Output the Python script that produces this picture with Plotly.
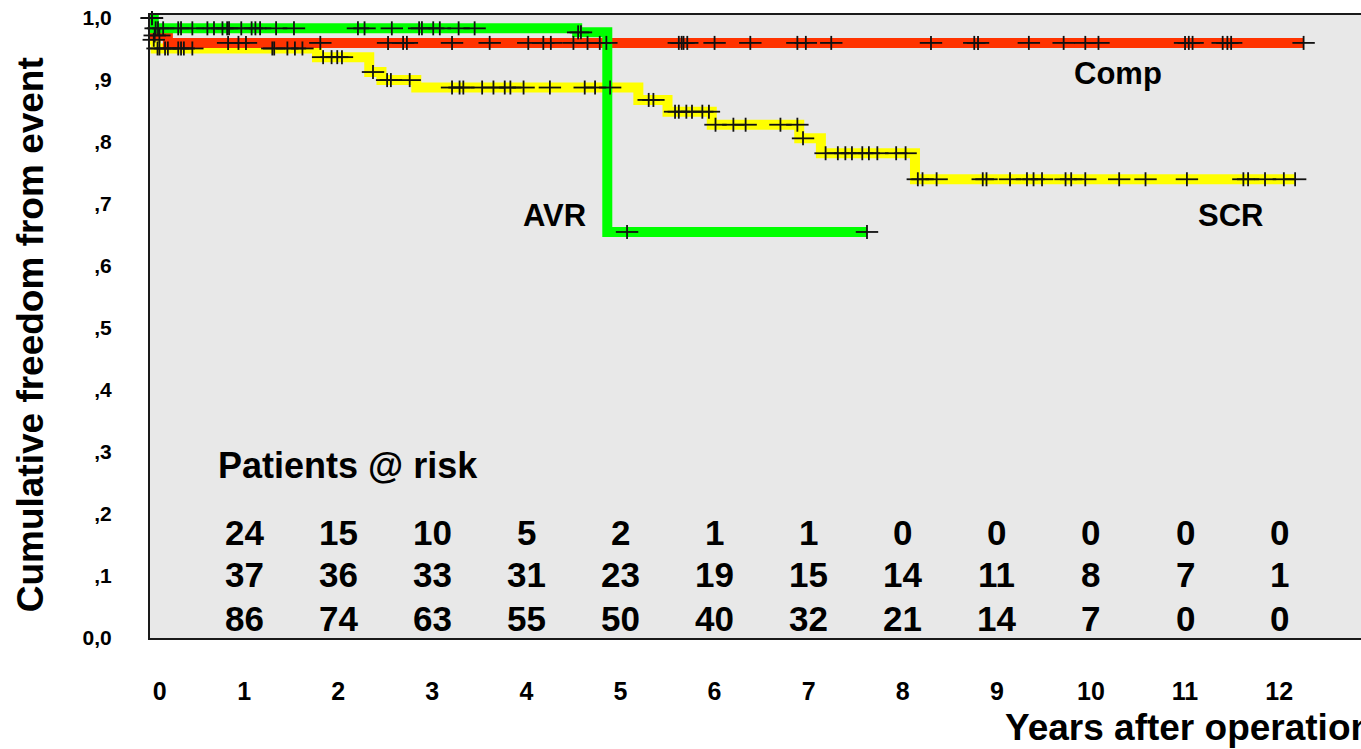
import plotly.graph_objects as go

# ---- Kaplan-Meier step points: time in years, cumulative freedom from event ----
scr_t = [0, 0.03, 0.06, 1.775, 2.33, 2.46, 2.83, 5.19, 5.50, 5.97, 6.90, 7.13, 8.13, 12.17]
scr_s = [1.0, 0.965, 0.951, 0.937, 0.913, 0.900, 0.888, 0.868, 0.849, 0.828, 0.806, 0.782, 0.740, 0.740]

comp_t = [0, 0.03, 0.19, 12.26]
comp_s = [1.0, 0.972, 0.960, 0.960]

avr_t = [0, 0.04, 4.54, 4.86, 7.62]
avr_s = [1.0, 0.9835, 0.977, 0.655, 0.655]

# ---- censored observations (years) ----
scr_cens = [0.02, 0.04, 0.08, 0.10, 0.16, 0.19, 0.30, 0.33, 0.36, 0.45, 1.30, 1.32, 1.46, 1.54, 1.62,
            1.84, 1.93, 1.99, 2.04, 2.37, 2.52, 2.56, 2.76,
            3.21, 3.29, 3.33, 3.53, 3.65, 3.77, 3.83, 3.97, 4.25, 4.62, 4.73, 4.89,
            5.30, 5.35, 5.58, 5.62, 5.70, 5.76, 5.87, 5.94,
            6.01, 6.20, 6.33, 6.70, 6.88, 6.94,
            7.18, 7.31, 7.39, 7.46, 7.57, 7.64, 7.73, 7.93, 8.03,
            8.16, 8.21, 8.36, 8.85, 8.89, 9.14, 9.32, 9.39, 9.48, 9.73, 9.79, 9.94,
            10.30, 10.58, 11.02, 11.62, 11.67, 11.85, 12.05, 12.17]

comp_cens = [0.02, 0.05, 0.10, 0.83, 0.94, 1.02, 1.81, 2.53, 2.69, 2.73, 3.21, 3.61, 4.02, 4.18,
             4.26, 4.50, 4.65, 4.78, 4.85, 5.62, 5.65, 5.67, 5.71, 6.00, 6.38, 6.88, 6.97,
             7.24, 8.30, 8.76, 8.80, 9.34, 9.71, 9.94, 10.08, 11.00, 11.04, 11.08,
             11.40, 11.45, 11.49, 12.26]

avr_cens = [0.02, 0.06, 0.085, 0.14, 0.30, 0.33, 0.45, 0.61, 0.68, 0.77, 0.82, 0.84, 0.97,
            1.08, 1.12, 1.17, 1.34, 1.53, 2.21, 2.28, 2.57, 2.86, 2.89, 3.01, 3.08,
            3.28, 3.45, 4.55, 4.58, 5.07, 7.62]

# ---- axis ticks ----
x_ticks = list(range(0, 13))
x_tick_text = ["\u2002\u00a00"] + [str(v) for v in x_ticks[1:]]
y_ticks = [0.0, 0.1, 0.2, 0.3, 0.4, 0.5, 0.6, 0.7, 0.8, 0.9, 1.0]
y_tick_text = ["0,0", ",1", ",2", ",3", ",4", ",5", ",6", ",7", ",8", ",9", "1,0"]

# ---- patients at risk table (AVR / Comp / SCR) ----
risk_years = list(range(1, 13))
risk_avr = [24, 15, 10, 5, 2, 1, 1, 0, 0, 0, 0, 0]
risk_comp = [37, 36, 33, 31, 23, 19, 15, 14, 11, 8, 7, 1]
risk_scr = [86, 74, 63, 55, 50, 40, 32, 21, 14, 7, 0, 0]

FONT = "Liberation Sans, Arial, sans-serif"


def level_at(ts, ss, t):
    """Survival level of a right-continuous step function at time t."""
    val = ss[0]
    for ti, si in zip(ts, ss):
        if ti <= t:
            val = si
        else:
            break
    return val


fig = go.Figure()

curves = [
    ("SCR", scr_t, scr_s, "#FFFF00"),
    ("Comp", comp_t, comp_s, "#FF3300"),
    ("AVR", avr_t, avr_s, "#00FF00"),
]
for name, ts, ss, col in curves:
    fig.add_trace(go.Scatter(
        x=ts, y=ss, mode="lines", name=name,
        line=dict(color=col, width=10, shape="hv"),
        hoverinfo="skip", showlegend=False,
    ))

# censor ticks drawn as black "+" marks (wide horizontal arm, shorter vertical arm)
for ts, ss, cens in [(scr_t, scr_s, scr_cens), (comp_t, comp_s, comp_cens), (avr_t, avr_s, avr_cens)]:
    cy = [level_at(ts, ss, c) for c in cens]
    fig.add_trace(go.Scatter(
        x=cens, y=cy, mode="markers", cliponaxis=False,
        marker=dict(symbol="line-ew", size=16, line=dict(color="#111111", width=1.8)),
        hoverinfo="skip", showlegend=False,
    ))
    fig.add_trace(go.Scatter(
        x=cens, y=cy, mode="markers", cliponaxis=False,
        marker=dict(symbol="line-ns", size=10, line=dict(color="#111111", width=1.8)),
        hoverinfo="skip", showlegend=False,
    ))

annotations = []


def txt(x, y, s, size, xref="x", yref="y", xanchor="center", angle=0):
    annotations.append(dict(
        x=x, y=y, xref=xref, yref=yref, text=s, showarrow=False,
        xanchor=xanchor, yanchor="middle", textangle=angle,
        font=dict(family=FONT, size=size, color="black", weight="bold"),
    ))


# group labels
txt(10.29, 0.911, "Comp", 31)
txt(4.30, 0.682, "AVR", 31)
txt(11.48, 0.682, "SCR", 31)

# patients at risk
txt(0.70, 0.279, "Patients @ risk", 36, xanchor="left")
for row, yv in [(risk_avr, 0.171), (risk_comp, 0.102), (risk_scr, 0.032)]:
    for yr, n in zip(risk_years, row):
        txt(yr, yv, str(n), 35)

# axis titles
txt(-0.099, 0.486, "Cumulative freedom from event", 37, xref="paper", yref="paper", angle=-90)
txt(0.7044, -0.143, "Years after operation", 37, xref="paper", yref="paper", xanchor="left")

fig.update_layout(
    width=1361, height=749,
    margin=dict(l=150, r=0, t=15, b=111),
    paper_bgcolor="white",
    plot_bgcolor="#E8E8E8",
    annotations=annotations,
    showlegend=False,
    xaxis=dict(
        range=[0, 12.87], tickvals=x_ticks, ticktext=x_tick_text,
        showgrid=False, zeroline=False, ticks="",
        showline=True, mirror=True, linecolor="#1a1a1a", linewidth=2,
        tickfont=dict(family=FONT, size=25, color="black", weight="bold"),
        ticklabelstandoff=30,
    ),
    yaxis=dict(
        range=[0, 1.005], tickvals=y_ticks, ticktext=y_tick_text,
        showgrid=False, zeroline=False, ticks="",
        showline=True, linecolor="#1a1a1a", linewidth=2,
        tickfont=dict(family=FONT, size=21, color="black", weight="bold"),
        ticklabelstandoff=32,
    ),
)

fig.write_html("out.html")
